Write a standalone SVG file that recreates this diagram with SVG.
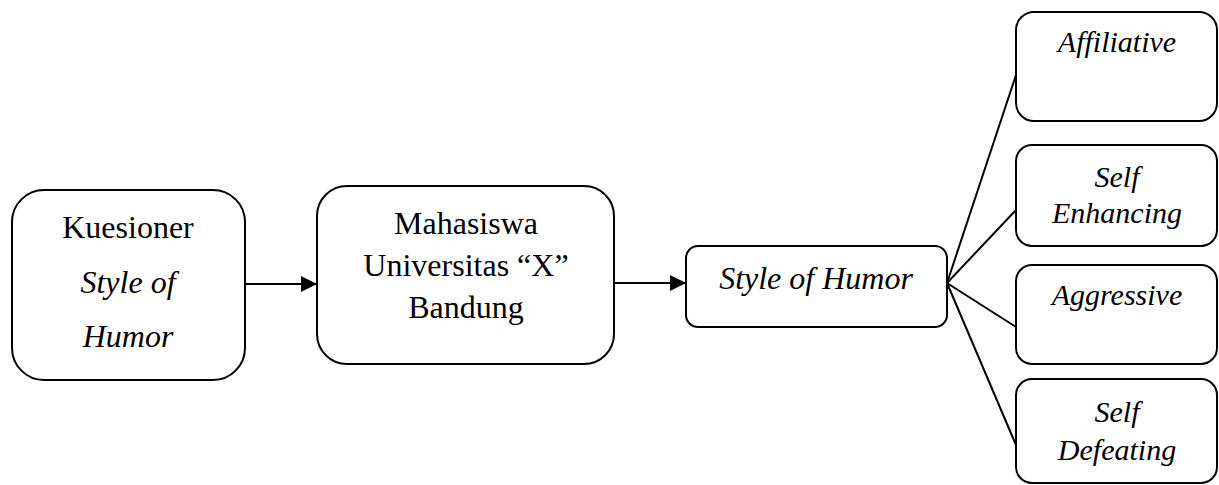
<svg xmlns="http://www.w3.org/2000/svg" width="1219" height="485" viewBox="0 0 1219 485">
<style>
.box{fill:#fff;stroke:#000;stroke-width:2}
.t{font-family:"Liberation Serif","Times New Roman",serif;font-size:32px;fill:#000;text-anchor:middle}
.s{font-size:30px}
.i{font-style:italic}
.c{stroke:#000;stroke-width:2;fill:none}
</style>
<defs>
<marker id="ah" markerWidth="16" markerHeight="16" refX="16" refY="8" orient="auto" markerUnits="userSpaceOnUse">
<path d="M0,0 L16,8 L0,16 Z" fill="#000"/>
</marker>
</defs>
<rect width="1219" height="485" fill="#fff"/>
<g id="connectors">
<line class="c" x1="245" y1="284" x2="317" y2="284" marker-end="url(#ah)"/>
<line class="c" x1="614" y1="283" x2="686" y2="283" marker-end="url(#ah)"/>
<line class="c" x1="947" y1="283" x2="1016" y2="75"/>
<line class="c" x1="947" y1="283" x2="1016" y2="210"/>
<line class="c" x1="947" y1="283" x2="1016" y2="327"/>
<line class="c" x1="947" y1="283" x2="1016" y2="445"/>
</g>
<g id="kuesioner">
<rect class="box" x="12" y="190" width="233" height="190" rx="32"/>
<text class="t" x="128" y="238">Kuesioner</text>
<text class="t i" x="128" y="293">Style of</text>
<text class="t i" x="128" y="347">Humor</text>
</g>
<g id="mahasiswa">
<rect class="box" x="317" y="186" width="297" height="178" rx="30"/>
<text class="t" x="466" y="234">Mahasiswa</text>
<text class="t" x="466" y="276">Universitas “X”</text>
<text class="t" x="466" y="318">Bandung</text>
</g>
<g id="style">
<rect class="box" x="686" y="246" width="261" height="81" rx="12"/>
<text class="t i" x="816" y="289">Style of Humor</text>
</g>
<g id="affiliative">
<rect class="box" x="1016" y="12" width="201" height="109" rx="18"/>
<text class="t s i" x="1117" y="52">Affiliative</text>
</g>
<g id="enhancing">
<rect class="box" x="1016" y="145" width="201" height="101" rx="16"/>
<text class="t s i" x="1117" y="187">Self</text>
<text class="t s i" x="1117" y="223">Enhancing</text>
</g>
<g id="aggressive">
<rect class="box" x="1016" y="265" width="201" height="99" rx="16"/>
<text class="t s i" x="1117" y="305">Aggressive</text>
</g>
<g id="defeating">
<rect class="box" x="1016" y="379" width="201" height="104" rx="16"/>
<text class="t s i" x="1117" y="422">Self</text>
<text class="t s i" x="1117" y="460">Defeating</text>
</g>
</svg>
